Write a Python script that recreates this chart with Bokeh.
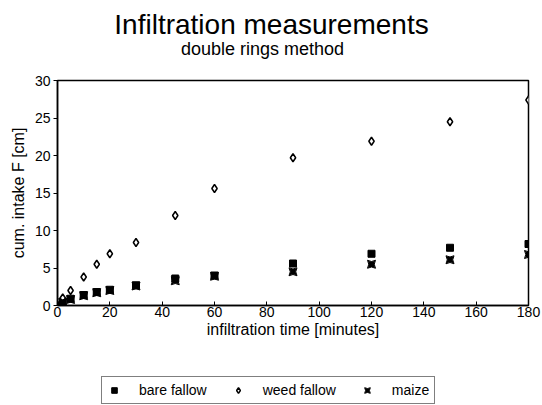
from bokeh.plotting import figure
from bokeh.layouts import column
from bokeh.models import Range1d, Label, Legend, LegendItem, FixedTicker
from bokeh.embed import file_html
from bokeh.resources import INLINE

time_min = [0, 2, 5, 10, 15, 20, 30, 45, 60, 90, 120, 150, 180]
bare_fallow = [0, 0.5, 0.9, 1.4, 1.8, 2.1, 2.7, 3.6, 4.0, 5.6, 6.9, 7.7, 8.2]
weed_fallow = [0, 1.0, 2.0, 3.8, 5.5, 6.9, 8.4, 12.0, 15.6, 19.7, 21.9, 24.5, 27.4]
maize = [0, 0.4, 0.8, 1.3, 1.7, 2.0, 2.6, 3.3, 3.9, 4.5, 5.5, 6.1, 6.8]
series_names = ["bare fallow", "weed fallow", "maize"]
x_ticks = [0, 20, 40, 60, 80, 100, 120, 140, 160, 180]
y_ticks = [0, 5, 10, 15, 20, 25, 30]
title_text = "Infiltration measurements"
subtitle_text = "double rings method"

FONT = "Liberation Sans"

# --- header with the titles (frame is aligned with the chart's frame) ---
head = figure(width=542, height=70, output_backend="svg", toolbar_location=None,
              x_axis_location=None, y_axis_location=None,
              x_range=Range1d(0, 1), y_range=Range1d(0, 1), min_border=0)
head.outline_line_color = None
head.grid.visible = False
head.add_layout(Label(x=214, y=46, x_units="screen", y_units="screen",
                      text=title_text, text_align="center",
                      text_baseline="alphabetic", text_font=FONT,
                      text_font_size="28px", text_color="black"))
head.add_layout(Label(x=205, y=22, x_units="screen", y_units="screen",
                      text=subtitle_text, text_align="center",
                      text_baseline="alphabetic", text_font=FONT,
                      text_font_size="18px", text_color="black"))

# --- main chart ---
p = figure(width=542, height=280, output_backend="svg", toolbar_location=None,
           x_range=Range1d(0, 180), y_range=Range1d(0, 30),
           min_border_left=57, min_border_right=14, min_border_top=10,
           min_border_bottom=45)
p.grid.visible = False
p.outline_line_color = "black"
p.outline_line_width = 1.5

for ax in (p.xaxis[0], p.yaxis[0]):
    ax.axis_line_width = 1.5
    ax.axis_line_color = "black"
    ax.major_tick_line_color = "black"
    ax.minor_tick_line_color = None
    ax.major_label_text_font = FONT
    ax.major_label_text_font_size = "14px"
    ax.major_label_text_color = "black"
    ax.axis_label_text_font = FONT
    ax.axis_label_text_font_size = "16px"
    ax.axis_label_text_font_style = "normal"
    ax.axis_label_text_color = "black"

p.xaxis.ticker = FixedTicker(ticks=x_ticks)
p.yaxis.ticker = FixedTicker(ticks=y_ticks)
p.xaxis.major_tick_in = 4
p.xaxis.major_tick_out = 0
p.xaxis.major_label_standoff = 1
p.xaxis.axis_label = "infiltration time [minutes]"
p.xaxis.axis_label_standoff = 1
p.yaxis.major_tick_in = 0
p.yaxis.major_tick_out = 4
p.yaxis.major_label_standoff = 3
p.yaxis.axis_label = "cum. intake F [cm]"
p.yaxis.axis_label_standoff = 5

styles = [dict(marker="square", size=7, fill_color="black", line_color="black", line_width=1),
          dict(marker="diamond", size=8, fill_color="white", line_color="black", line_width=1.5),
          dict(marker="square_pin", size=8, fill_color="black", line_color="black", line_width=1)]
series = [bare_fallow, weed_fallow, maize]

for ys, st in zip(series, styles):
    p.scatter(time_min, ys, **st)

# --- legend strip (its ranges keep the data out of view; only the legend shows) ---
leg = figure(width=542, height=55, output_backend="svg", toolbar_location=None,
             x_axis_location=None, y_axis_location=None,
             x_range=Range1d(1000, 1001), y_range=Range1d(1000, 1001), min_border=0)
leg.outline_line_color = None
leg.grid.visible = False
items = []
for name, ys, st in zip(series_names, series, styles):
    r = leg.scatter(time_min, ys, **st)
    items.append(LegendItem(label=name, renderers=[r]))
legend = Legend(items=items, orientation="horizontal", location=(44, 1),
                label_text_font=FONT, label_text_font_size="14px",
                label_text_color="black",
                glyph_width=14, glyph_height=14, label_height=14,
                label_standoff=18, spacing=24, padding=5, margin=0,
                border_line_color="black", border_line_width=1.5,
                background_fill_alpha=1.0)
leg.add_layout(legend, "center")

layout = column(head, p, leg, spacing=0)
open("out.html", "w").write(file_html(layout, INLINE))
